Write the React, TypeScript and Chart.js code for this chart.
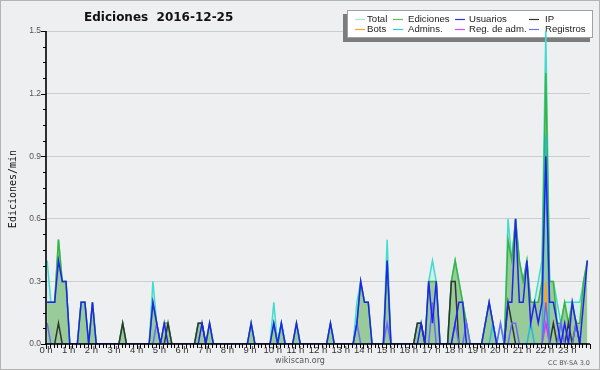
import React, { useEffect, useRef } from 'react';
import { Chart, registerables } from 'chart.js';

Chart.register(...registerables);

// ---- data: one value per 10-minute bin (144 bins, 00:00 - 23:50), edits/min ----
const TOTAL = [
  0.4, 0.2, 0.2, 0.5, 0.3, 0.3, 0, 0, 0, 0.2, 0.2, 0,
  0.2, 0, 0, 0, 0, 0, 0, 0, 0.1, 0, 0, 0,
  0, 0, 0, 0, 0.3, 0.1, 0, 0.1, 0.1, 0, 0, 0,
  0, 0, 0, 0, 0.1, 0.1, 0, 0.1, 0, 0, 0, 0,
  0, 0, 0, 0, 0, 0, 0.1, 0, 0, 0, 0, 0,
  0.2, 0, 0.1, 0, 0, 0, 0.1, 0, 0, 0, 0, 0,
  0, 0, 0, 0.1, 0, 0, 0, 0, 0, 0, 0.2, 0.3,
  0.2, 0.2, 0, 0, 0, 0, 0.5, 0, 0, 0, 0, 0,
  0, 0, 0.1, 0.1, 0, 0.3, 0.4, 0.3, 0, 0, 0, 0.3,
  0.4, 0.3, 0.2, 0.1, 0, 0, 0, 0, 0.1, 0.2, 0.1, 0,
  0.1, 0, 0.6, 0.4, 0.6, 0.4, 0.3, 0.4, 0.2, 0.2, 0.3, 0.4,
  1.5, 0.3, 0.3, 0.2, 0.1, 0.2, 0.2, 0.2, 0.2, 0.2, 0.3, 0.4,
];
const EDICIONES = [
  0.2, 0.2, 0.2, 0.5, 0.3, 0.3, 0, 0, 0, 0.2, 0.2, 0,
  0.2, 0, 0, 0, 0, 0, 0, 0, 0.1, 0, 0, 0,
  0, 0, 0, 0, 0.2, 0.1, 0, 0.1, 0.1, 0, 0, 0,
  0, 0, 0, 0, 0.1, 0.1, 0, 0.1, 0, 0, 0, 0,
  0, 0, 0, 0, 0, 0, 0.1, 0, 0, 0, 0, 0,
  0.1, 0, 0.1, 0, 0, 0, 0.1, 0, 0, 0, 0, 0,
  0, 0, 0, 0.1, 0, 0, 0, 0, 0, 0, 0.1, 0.3,
  0.2, 0.2, 0, 0, 0, 0, 0.4, 0, 0, 0, 0, 0,
  0, 0, 0.1, 0.1, 0, 0.3, 0.3, 0.3, 0, 0, 0, 0.3,
  0.4, 0.3, 0.2, 0.1, 0, 0, 0, 0, 0.1, 0.2, 0.1, 0,
  0, 0, 0.5, 0.4, 0.6, 0.4, 0.3, 0.4, 0.2, 0.2, 0.2, 0.3,
  1.3, 0.3, 0.3, 0.1, 0.1, 0.2, 0.1, 0.2, 0.1, 0.1, 0.3, 0.4,
];
const USUARIOS = [
  0.2, 0.2, 0.2, 0.4, 0.3, 0.3, 0, 0, 0, 0.2, 0.2, 0,
  0.2, 0, 0, 0, 0, 0, 0, 0, 0, 0, 0, 0,
  0, 0, 0, 0, 0.2, 0.1, 0, 0.1, 0, 0, 0, 0,
  0, 0, 0, 0, 0, 0.1, 0, 0.1, 0, 0, 0, 0,
  0, 0, 0, 0, 0, 0, 0.1, 0, 0, 0, 0, 0,
  0.1, 0, 0.1, 0, 0, 0, 0.1, 0, 0, 0, 0, 0,
  0, 0, 0, 0.1, 0, 0, 0, 0, 0, 0, 0.1, 0.3,
  0.2, 0.2, 0, 0, 0, 0, 0.4, 0, 0, 0, 0, 0,
  0, 0, 0, 0.1, 0, 0.3, 0.1, 0.3, 0, 0, 0, 0,
  0.1, 0.2, 0.2, 0, 0, 0, 0, 0, 0.1, 0.2, 0.1, 0,
  0, 0, 0.2, 0.2, 0.6, 0.2, 0.2, 0.4, 0.1, 0.2, 0.1, 0.2,
  0.9, 0.2, 0.2, 0.1, 0, 0.1, 0, 0.2, 0.1, 0, 0.2, 0.4,
];
const IP = [
  0, 0, 0, 0.1, 0, 0, 0, 0, 0, 0, 0, 0,
  0, 0, 0, 0, 0, 0, 0, 0, 0.1, 0, 0, 0,
  0, 0, 0, 0, 0, 0, 0, 0, 0.1, 0, 0, 0,
  0, 0, 0, 0, 0.1, 0.1, 0, 0, 0, 0, 0, 0,
  0, 0, 0, 0, 0, 0, 0, 0, 0, 0, 0, 0,
  0, 0, 0, 0, 0, 0, 0, 0, 0, 0, 0, 0,
  0, 0, 0, 0, 0, 0, 0, 0, 0, 0, 0, 0,
  0, 0, 0, 0, 0, 0, 0, 0, 0, 0, 0, 0,
  0, 0, 0.1, 0.1, 0, 0, 0, 0, 0, 0, 0, 0.3,
  0.3, 0, 0, 0, 0, 0, 0, 0, 0, 0, 0, 0,
  0, 0, 0.2, 0.1, 0, 0, 0, 0, 0, 0, 0, 0,
  0, 0, 0.1, 0, 0, 0, 0.1, 0, 0.1, 0, 0, 0,
];
const BOTS = [
  0, 0, 0, 0, 0, 0, 0, 0, 0, 0, 0, 0,
  0, 0, 0, 0, 0, 0, 0, 0, 0, 0, 0, 0,
  0, 0, 0, 0, 0, 0, 0, 0, 0, 0, 0, 0,
  0, 0, 0, 0, 0, 0, 0, 0, 0, 0, 0, 0,
  0, 0, 0, 0, 0, 0, 0, 0, 0, 0, 0, 0,
  0, 0, 0, 0, 0, 0, 0, 0, 0, 0, 0, 0,
  0, 0, 0, 0, 0, 0, 0, 0, 0, 0, 0, 0,
  0, 0, 0, 0, 0, 0, 0, 0, 0, 0, 0, 0,
  0, 0, 0, 0, 0, 0, 0, 0, 0, 0, 0, 0,
  0, 0, 0, 0, 0, 0, 0, 0, 0, 0, 0, 0,
  0, 0, 0, 0, 0, 0, 0, 0, 0, 0, 0, 0,
  0.3, 0, 0, 0, 0, 0, 0, 0, 0, 0, 0, 0,
];
const ADMINS = [
  0, 0, 0, 0, 0, 0, 0, 0, 0, 0, 0, 0,
  0, 0, 0, 0, 0, 0, 0, 0, 0, 0, 0, 0,
  0, 0, 0, 0, 0, 0, 0, 0, 0, 0, 0, 0,
  0, 0, 0, 0, 0, 0, 0, 0, 0, 0, 0, 0,
  0, 0, 0, 0, 0, 0, 0, 0, 0, 0, 0, 0,
  0, 0, 0.1, 0, 0, 0, 0, 0, 0, 0, 0, 0,
  0, 0, 0, 0, 0, 0, 0, 0, 0, 0, 0, 0,
  0, 0, 0, 0, 0, 0, 0, 0, 0, 0, 0, 0,
  0, 0, 0, 0, 0, 0, 0, 0, 0, 0, 0, 0,
  0, 0, 0, 0, 0, 0, 0, 0, 0, 0, 0.1, 0,
  0, 0, 0, 0, 0, 0, 0, 0, 0.1, 0, 0, 0,
  1.0, 0, 0, 0, 0.1, 0, 0, 0, 0, 0, 0, 0,
];
const REG_ADM = [
  0, 0, 0, 0, 0, 0, 0, 0, 0, 0, 0, 0,
  0, 0, 0, 0, 0, 0, 0, 0, 0, 0, 0, 0,
  0, 0, 0, 0, 0, 0, 0, 0, 0, 0, 0, 0,
  0, 0, 0, 0, 0, 0, 0, 0, 0, 0, 0, 0,
  0, 0, 0, 0, 0, 0, 0, 0, 0, 0, 0, 0,
  0, 0, 0, 0, 0, 0, 0, 0, 0, 0, 0, 0,
  0, 0, 0, 0, 0, 0, 0, 0, 0, 0, 0, 0,
  0, 0, 0, 0, 0, 0, 0, 0, 0, 0, 0, 0,
  0, 0, 0, 0, 0, 0, 0, 0, 0, 0, 0, 0,
  0, 0, 0, 0, 0, 0, 0, 0, 0, 0, 0, 0,
  0, 0, 0, 0, 0, 0, 0, 0, 0, 0, 0, 0,
  0.1, 0, 0, 0, 0, 0, 0, 0, 0, 0, 0, 0,
];
const REGISTROS = [
  0.1, 0, 0, 0, 0, 0, 0, 0, 0, 0, 0, 0,
  0, 0, 0, 0, 0, 0, 0, 0, 0, 0, 0, 0,
  0, 0, 0, 0, 0, 0.1, 0, 0, 0, 0, 0, 0,
  0, 0, 0, 0, 0, 0, 0, 0, 0, 0, 0, 0,
  0, 0, 0, 0, 0, 0, 0, 0, 0, 0, 0, 0,
  0, 0, 0, 0, 0, 0, 0, 0, 0, 0, 0, 0,
  0, 0, 0, 0, 0, 0, 0, 0, 0, 0, 0.1, 0,
  0, 0, 0, 0, 0, 0, 0.1, 0, 0, 0, 0, 0,
  0, 0, 0, 0, 0, 0, 0.2, 0, 0, 0, 0, 0,
  0.1, 0, 0, 0.1, 0, 0, 0, 0, 0, 0, 0, 0,
  0.1, 0, 0, 0.1, 0.1, 0, 0, 0, 0, 0, 0, 0,
  0.2, 0, 0, 0, 0.1, 0, 0, 0, 0.1, 0, 0, 0,
];

const HOUR_LABELS = [
  '0 h', '1 h', '2 h', '3 h', '4 h', '5 h', '6 h', '7 h', '8 h', '9 h', '10 h', '11 h',
  '12 h', '13 h', '14 h', '15 h', '16 h', '17 h', '18 h', '19 h', '20 h', '21 h', '22 h', '23 h',
];
const Y_TICK_VALUES = [0, 0.3, 0.6, 0.9, 1.2, 1.5];
const Y_TICK_LABELS = ['0.0', '0.3', '0.6', '0.9', '1.2', '1.5'];

const TITLE = 'Ediciones  2016-12-25';
const Y_TITLE = 'Ediciones/min';

const LEGEND = [
  { label: 'Total', color: '#9fe6e2' },
  { label: 'Ediciones', color: '#5cc05c' },
  { label: 'Usuarios', color: '#3030ee' },
  { label: 'IP', color: '#333333' },
  { label: 'Bots', color: '#ffa030' },
  { label: 'Admins.', color: '#30c8e0' },
  { label: 'Reg. de adm.', color: '#dd44ee' },
  { label: 'Registros', color: '#7070f0' },
];

const BIN_OFFSET = 0.3; // points sit a little after each 10-minute boundary
const BINS = 144;

const series = (label: string, values: number[], color: string, order: number, extra: any = {}) => ({
  label,
  data: values.map((v, i) => ({ x: i, y: v })),
  borderColor: color,
  backgroundColor: color,
  borderWidth: 1.5,
  pointRadius: 0,
  tension: 0,
  fill: false,
  order,
  ...extra,
});

const deco = {
  id: 'deco',
  beforeDraw(chart: any) {
    const { ctx, width, height } = chart;
    ctx.save();
    ctx.fillStyle = '#eeeff0';
    ctx.fillRect(0, 0, width, height);
    ctx.strokeStyle = '#b4b4b4';
    ctx.lineWidth = 1;
    ctx.strokeRect(0.5, 0.5, width - 1, height - 1);
    ctx.restore();
  },
  beforeDatasetsDraw(chart: any) {
    const { ctx } = chart;
    ctx.save();
    // legend box with shadow
    ctx.fillStyle = '#7c7c7c';
    ctx.fillRect(343, 14, 247, 28);
    ctx.fillStyle = '#ffffff';
    ctx.fillRect(347, 10, 246, 28);
    ctx.strokeStyle = '#a0a0a0';
    ctx.lineWidth = 1;
    ctx.strokeRect(347.5, 10.5, 245, 27);
    const lineX = [355, 393, 455, 529];
    const textX = [367, 408, 469, 545];
    const rowY = [19.5, 29.5];
    ctx.font = '9.6px "Liberation Sans"';
    ctx.textBaseline = 'middle';
    ctx.textAlign = 'left';
    LEGEND.forEach((item, i) => {
      const c = i % 4;
      const r = Math.floor(i / 4);
      ctx.strokeStyle = item.color;
      ctx.lineWidth = 1.2;
      ctx.beginPath();
      ctx.moveTo(lineX[c], rowY[r]);
      ctx.lineTo(lineX[c] + 10, rowY[r]);
      ctx.stroke();
      ctx.fillStyle = '#222222';
      ctx.fillText(item.label, textX[c], rowY[r]);
    });
    ctx.restore();
  },
  afterDatasetsDraw(chart: any) {
    const { ctx } = chart;
    const xs = chart.scales.x;
    const ys = chart.scales.y;
    const { left, right, top, bottom } = chart.chartArea;
    ctx.save();
    // axis lines
    ctx.strokeStyle = '#000000';
    ctx.lineWidth = 1.6;
    ctx.beginPath();
    ctx.moveTo(left, top);
    ctx.lineTo(left, bottom + 1);
    ctx.moveTo(left - 1, bottom);
    ctx.lineTo(right, bottom);
    ctx.stroke();
    // x ticks every 10 minutes
    ctx.lineWidth = 1;
    ctx.beginPath();
    for (let k = 0; k <= BINS; k++) {
      const px = Math.round(xs.getPixelForValue(k - BIN_OFFSET)) + 0.5;
      const len = k % 6 === 0 ? 5 : 4;
      ctx.moveTo(px, bottom);
      ctx.lineTo(px, bottom + len);
    }
    // y ticks
    for (let m = 0; m <= 20; m++) {
      const py = Math.round(ys.getPixelForValue(m * 0.075)) + 0.5;
      const len = m % 4 === 0 ? 5 : 3;
      ctx.moveTo(left, py);
      ctx.lineTo(left - len, py);
    }
    ctx.stroke();
    // x labels
    ctx.font = '9.5px "Liberation Sans"';
    ctx.fillStyle = '#333333';
    ctx.textAlign = 'center';
    ctx.textBaseline = 'top';
    HOUR_LABELS.forEach((lab, h) => {
      ctx.fillText(lab, xs.getPixelForValue(h * 6 - BIN_OFFSET), bottom + 2);
    });
    // y labels
    ctx.font = '8.5px "Liberation Sans"';
    ctx.fillStyle = '#555555';
    ctx.textAlign = 'right';
    ctx.textBaseline = 'middle';
    Y_TICK_VALUES.forEach((v, i) => {
      ctx.fillText(Y_TICK_LABELS[i], left - 5, ys.getPixelForValue(v));
    });
    // title
    ctx.font = 'bold 12px "DejaVu Sans"';
    ctx.fillStyle = '#111111';
    ctx.textAlign = 'left';
    ctx.textBaseline = 'alphabetic';
    ctx.fillText(TITLE, 84, 21);
    // y title
    ctx.save();
    ctx.translate(13, 189);
    ctx.rotate(-Math.PI / 2);
    ctx.font = '10px "DejaVu Sans Mono"';
    ctx.textAlign = 'center';
    ctx.textBaseline = 'middle';
    ctx.fillStyle = '#111111';
    ctx.fillText(Y_TITLE, 0, 0);
    ctx.restore();
    // footer texts
    ctx.font = '8px "DejaVu Sans"';
    ctx.fillStyle = '#555555';
    ctx.textAlign = 'center';
    ctx.textBaseline = 'middle';
    ctx.fillText('wikiscan.org', 300, 361);
    ctx.font = '6.5px "DejaVu Sans"';
    ctx.textAlign = 'right';
    ctx.fillText('CC BY-SA 3.0', 590, 363);
    ctx.restore();
  },
};

export default function App() {
  const ref = useRef<HTMLCanvasElement | null>(null);
  useEffect(() => {
    document.body.style.margin = '0';
    const canvas = ref.current!;
    const chart = new Chart(canvas, {
      type: 'line',
      data: {
        datasets: [
          series('Usuarios', USUARIOS, '#2222ee', 1),
          series('Registros', REGISTROS, '#6a6af5', 2),
          series('Admins.', ADMINS, '#22b8e6', 3),
          series('IP', IP, '#333333', 4),
          series('Bots', BOTS, '#ffa020', 5),
          series('Reg. de adm.', REG_ADM, '#dd33ee', 6),
          series('Ediciones', EDICIONES, '#3cb43c', 7, { fill: 'origin', backgroundColor: '#98ca9a' }),
          series('Total', TOTAL, '#40dcd0', 8, { fill: 'origin', backgroundColor: 'rgba(64,220,208,0.15)' }),
        ],
      },
      options: {
        responsive: false,
        maintainAspectRatio: false,
        animation: false,
        devicePixelRatio: 1,
        events: [],
        layout: { padding: { left: 0, right: 10, top: 31, bottom: 0 } },
        plugins: {
          legend: { display: false },
          title: { display: false },
          tooltip: { enabled: false },
          filler: { drawTime: 'beforeDatasetsDraw' },
        } as any,
        scales: {
          x: {
            type: 'linear',
            min: -BIN_OFFSET,
            max: BINS - BIN_OFFSET,
            grid: { display: false },
            border: { display: false },
            ticks: { display: false },
            afterFit: (s: any) => {
              s.height = 26;
              s.paddingLeft = 0;
              s.paddingRight = 0;
            },
          },
          y: {
            min: 0,
            max: 1.5,
            afterBuildTicks: (s: any) => {
              s.ticks = Y_TICK_VALUES.map((v) => ({ value: v }));
            },
            grid: { color: '#cdcdcd', lineWidth: 1, drawTicks: false },
            border: { display: false },
            ticks: { display: false },
            afterFit: (s: any) => {
              s.width = 46;
              s.paddingTop = 0;
              s.paddingBottom = 0;
            },
          },
        },
      } as any,
      plugins: [deco],
    });
    return () => chart.destroy();
  }, []);
  return (
    <div style={{ width: 600, height: 370 }}>
      <canvas ref={ref} width={600} height={370} style={{ display: 'block', width: 600, height: 370 }} />
    </div>
  );
}
